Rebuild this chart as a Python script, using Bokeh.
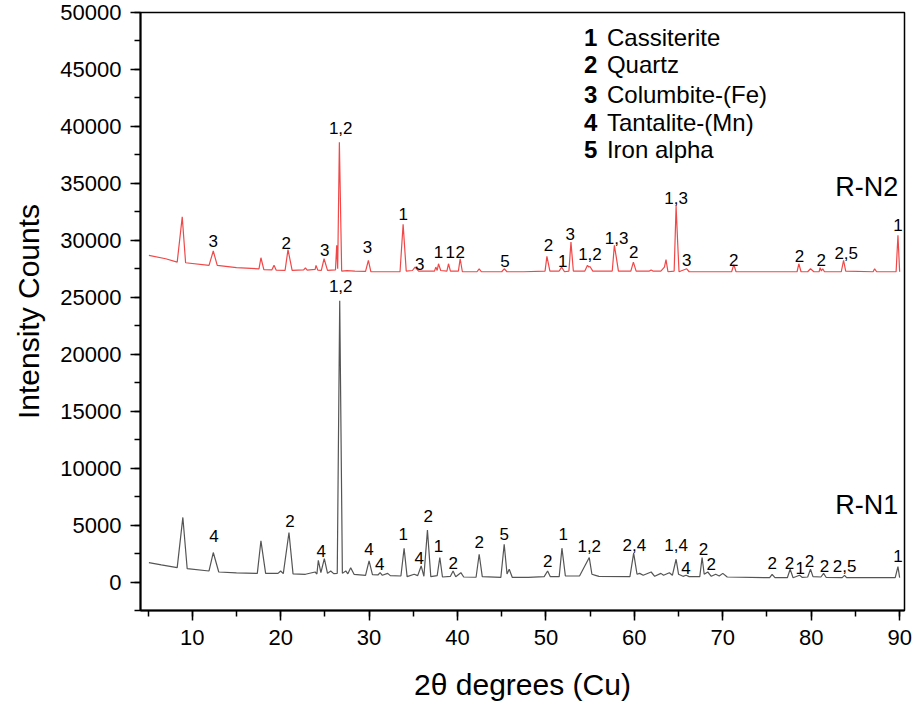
from bokeh.plotting import figure
from bokeh.models import ColumnDataSource, SingleIntervalTicker, Range1d
from bokeh.core.properties import value
from bokeh.embed import file_html
from bokeh.resources import INLINE

# ---------------- data ----------------
rn1_x = [5.1, 6.5, 8.3, 8.94, 9.43, 11.9, 12.38, 13.0, 15.0, 17.36, 17.77, 18.3, 19.7, 20.0, 20.3,
         20.94, 21.4, 22.8, 23.9, 24.1, 24.26, 24.55, 24.94, 25.3, 25.66, 26.0, 26.4, 26.68, 26.98,
         27.36, 27.6, 27.92, 28.3, 29.6, 30.0, 30.38, 31.0, 31.25, 31.5, 32.1, 32.4, 33.6, 33.96,
         34.3, 35.1, 35.5, 35.89, 36.2, 36.6, 36.98, 37.7, 38.0, 38.3, 39.2, 39.5, 39.8, 40.38,
         40.7, 42.1, 42.45, 42.8, 44.9, 45.28, 45.6, 45.85, 46.2, 48.0, 49.8, 50.19, 50.5, 51.5,
         51.81, 52.2, 53.8, 54.9, 55.2, 55.6, 56.0, 59.5, 59.92, 60.3, 60.6, 61.0, 61.9, 62.3,
         63.0, 63.3, 63.96, 64.3, 64.72, 65.0, 65.5, 65.85, 66.2, 67.4, 67.66, 67.9, 68.3, 68.7,
         69.2, 69.6, 70.0, 70.5, 75.3, 75.58, 75.9, 77.3, 77.62, 77.95, 78.68, 79.0, 79.6, 79.92,
         80.2, 81.1, 81.4, 81.7, 83.5, 83.77, 84.0, 87.0, 89.5, 89.81, 90.0]
rn1_y = [1700, 1500, 1260, 5670, 1170, 970, 2590, 880, 800, 760, 3620, 760, 760, 970, 740,
         4350, 720, 680, 880, 700, 1910, 820, 2060, 760, 970, 740, 760, 24700, 760,
         970, 720, 1260, 680, 590, 1850, 650, 620, 820, 590, 760, 560, 530, 2970,
         470, 680, 560, 1410, 500, 4560, 470, 560, 2150, 440, 500, 970, 470, 820,
         440, 420, 2440, 470, 400, 3320, 700, 1120, 400, 400, 470, 970, 470, 470,
         2970, 530, 530, 2150, 680, 590, 500, 470, 2530, 680, 760, 590, 880, 500,
         760, 590, 820, 590, 2000, 680, 500, 590, 470, 470, 2150, 680, 880, 500,
         680, 530, 760, 440, 380, 680, 380, 380, 1120, 380, 590, 400, 440, 1120,
         470, 440, 760, 400, 380, 590, 380, 380, 380, 1350, 380]

rn2_x = [5.1, 7.0, 8.3, 8.87, 9.25, 11.9, 12.38, 12.83, 15.0, 17.55, 17.77, 18.1, 19.0, 19.25,
         19.5, 20.5, 20.83, 21.3, 22.6, 22.8, 23.0, 23.9, 24.0, 24.2, 24.6, 24.91, 25.3, 26.2,
         26.34, 26.45, 26.64, 26.9, 27.5, 28.4, 29.6, 29.92, 30.2, 33.5, 33.85, 34.2, 34.9,
         35.2, 35.6, 36.5, 37.4, 37.55, 37.7, 37.85, 38.1, 38.8, 38.98, 39.2, 40.1, 40.3, 40.55,
         42.2, 42.45, 42.7, 45.0, 45.28, 45.6, 47.5, 49.9, 50.11, 50.45, 51.5, 51.77, 52.1,
         52.6, 52.83, 53.1, 54.4, 54.7, 54.85, 54.98, 55.3, 57.5, 57.74, 57.95, 58.2, 59.6,
         59.89, 60.2, 61.7, 61.9, 62.1, 63.0, 63.4, 63.58, 63.8, 64.5, 64.72, 64.87, 65.05,
         65.92, 66.2, 71.0, 71.25, 71.5, 78.4, 78.6, 78.85, 79.6, 79.92, 80.3, 80.9, 81.0,
         81.15, 81.3, 81.5, 83.4, 83.66, 83.9, 87.0, 87.17, 87.4, 89.6, 89.81, 90.0]
rn2_y = [28680, 28380, 28090, 32060, 28030, 27800, 29060, 27800, 27600, 27500, 28470, 27420, 27400, 27800,
         27380, 27360, 29180, 27360, 27400, 27570, 27380, 27450, 27800, 27380, 27360, 28380, 27360, 27400,
         29560, 27500, 38600, 27300, 27330, 27300, 27270, 28240, 27240, 27240, 31410, 27300, 27350,
         27650, 27300, 27300, 27300, 27650, 27350, 27940, 27350, 27300, 27940, 27300, 27300, 28380, 27240,
         27240, 27500, 27240, 27240, 27500, 27240, 27240, 27300, 28590, 27300, 27300, 27650, 27240,
         27300, 29850, 27300, 27300, 27800, 27650, 27700, 27300, 27300, 29560, 28540, 27300, 27300,
         28090, 27300, 27300, 27400, 27300, 27300, 27650, 28300, 27240, 27300, 33000, 30290, 27240,
         27500, 27240, 27240, 27850, 27240, 27240, 27940, 27240, 27240, 27500, 27240, 27240, 27600,
         27300, 27500, 27240, 27240, 28240, 27300, 27240, 27500, 27240, 27240, 30440, 27240]

# peak phase labels: R-N2
rn2_lab_x = [12.38, 20.64, 24.98, 26.79, 29.81, 33.85, 35.74, 37.85, 39.17, 40.3, 45.36,
             50.3, 51.89, 52.75, 54.98, 58.0, 59.92, 64.72, 65.92, 71.25, 78.68, 81.13, 83.96, 89.81]
rn2_lab_y = [29940, 29770, 29180, 39900, 29410, 32350, 27940, 28970, 28970, 28970, 28180,
             29560, 28180, 30590, 28770, 30240, 28970, 33680, 28240, 28240, 28590, 28240, 28880, 31320]
rn2_lab = ["3", "2", "3", "1,2", "3", "1", "3", "1", "1", "2", "5",
           "2", "1", "3", "1,2", "1,3", "2", "1,3", "3", "2", "2", "2", "2,5", "1"]

# peak phase labels: R-N1
rn1_lab_x = [12.45, 21.06, 24.6, 26.79, 30.0, 31.2, 33.85, 35.66, 36.68, 37.85, 39.51, 42.45, 45.28,
             50.19, 51.96, 54.9, 60.0, 64.72, 65.85, 67.81, 68.68, 75.58, 77.55, 78.75, 79.81,
             81.5, 83.77, 89.81]
rn1_lab_y = [4060, 5380, 2730, 26000, 2940, 1560, 4200, 2150, 5760, 3180, 1710, 3470, 4200,
             1850, 4200, 3180, 3230, 3230, 1260, 2880, 1560, 1710, 1710, 1260, 1850,
             1410, 1410, 2290]
rn1_lab = ["4", "2", "4", "1,2", "4", "4", "1", "4", "2", "1", "2", "2", "5",
           "2", "1", "1,2", "2,4", "1,4", "4", "2", "2", "2", "2", "1", "2",
           "2", "2,5", "1"]

legend_num = ["1", "2", "3", "4", "5"]
legend_name = ["Cassiterite", "Quartz", "Columbite-(Fe)", "Tantalite-(Mn)", " Iron alpha"]
legend_y = [47800, 45460, 42800, 40340, 38000]

sample_names = ["R-N2", "R-N1"]
sample_y = [34720, 6720]

FONT = "Liberation Sans"

p = figure(width=913, height=708, output_backend="svg", toolbar_location=None,
           x_range=Range1d(4.15, 90.55), y_range=Range1d(-2500, 50000),
           min_border_left=140, min_border_right=9, min_border_top=12, min_border_bottom=98)
p.background_fill_color = "white"
p.border_fill_color = "white"
p.grid.visible = False
p.outline_line_color = "black"
p.outline_line_width = 1.5

p.line(rn2_x, rn2_y, line_color="#f04848", line_width=1.2)
p.line(rn1_x, rn1_y, line_color="#555555", line_width=1.2)

src2 = ColumnDataSource(dict(x=rn2_lab_x, y=rn2_lab_y, t=rn2_lab))
src1 = ColumnDataSource(dict(x=rn1_lab_x, y=rn1_lab_y, t=rn1_lab))
for s in (src2, src1):
    p.text(x="x", y="y", text="t", source=s, text_align="center", text_baseline="middle",
           text_font=value(FONT), text_font_size="17px", text_color="black")

lsrc = ColumnDataSource(dict(num=legend_num, name=legend_name, y=legend_y,
                             xn=[54.3] * 5, xt=[56.9] * 5))
p.text(x="xn", y="y", text="num", source=lsrc, text_align="left", text_baseline="middle",
       text_font=value(FONT), text_font_size="24px", text_font_style="bold", text_color="black")
p.text(x="xt", y="y", text="name", source=lsrc, text_align="left", text_baseline="middle",
       text_font=value(FONT), text_font_size="24px", text_color="black")

ssrc = ColumnDataSource(dict(x=[89.85, 89.85], y=sample_y, t=sample_names))
p.text(x="x", y="y", text="t", source=ssrc, text_align="right", text_baseline="middle",
       text_font=value(FONT), text_font_size="27px", text_color="black")

# axes
p.xaxis.ticker = SingleIntervalTicker(interval=10, num_minor_ticks=2)
p.yaxis.ticker = SingleIntervalTicker(interval=5000, num_minor_ticks=2)
for ax in (p.xaxis[0], p.yaxis[0]):
    ax.axis_line_width = 2
    ax.axis_line_color = "black"
    ax.major_tick_line_width = 1.5
    ax.minor_tick_line_width = 1.5
    ax.major_tick_line_color = "black"
    ax.minor_tick_line_color = "black"
    ax.major_tick_out = 10
    ax.major_tick_in = 0
    ax.minor_tick_out = 6
    ax.minor_tick_in = 0
    ax.major_label_text_font = FONT
    ax.major_label_text_font_size = "22px"
    ax.major_label_text_color = "black"
    ax.axis_label_text_font = FONT
    ax.axis_label_text_font_size = "30px"
    ax.axis_label_text_font_style = "normal"
    ax.axis_label_text_color = "black"
p.xaxis.axis_label = "2θ degrees (Cu)"
p.yaxis.axis_label = "Intensity Counts"
p.xaxis.major_label_standoff = 9
p.yaxis.major_label_standoff = 9
p.xaxis.axis_label_standoff = 20
p.yaxis.axis_label_standoff = 12

open("out.html", "w").write(file_html(p, INLINE))
